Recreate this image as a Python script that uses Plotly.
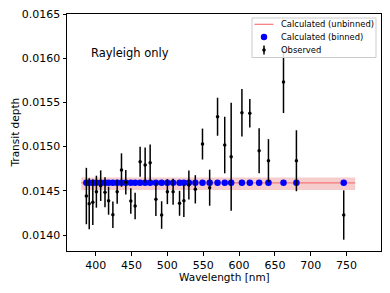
import plotly.graph_objects as go

# Observed spectrum
obs_wl = [387, 391, 396, 401, 407, 413, 418, 424, 430, 436, 442, 449, 455, 462,
          469, 476, 484, 492, 500, 508, 517, 523, 530, 539, 549, 559, 570, 580,
          589, 604, 615, 628, 641, 662, 680, 746]
obs_depth = [0.014441, 0.014354, 0.014370, 0.014490, 0.014558, 0.014483, 0.014388,
             0.014230, 0.014490, 0.014735, 0.014596, 0.014385, 0.014328, 0.014829,
             0.014792, 0.014818, 0.014404, 0.014226, 0.014490, 0.014490, 0.014359,
             0.014388, 0.014566, 0.014517, 0.015029, 0.014535, 0.015338, 0.015018,
             0.014886, 0.015383, 0.015377, 0.014954, 0.014840, 0.015731, 0.014840,
             0.014226]
obs_err = [0.000319, 0.000288, 0.000258, 0.000181, 0.000173, 0.000170, 0.000158,
           0.000150, 0.000136, 0.000189, 0.000139, 0.000145, 0.000150, 0.000170,
           0.000198, 0.000207, 0.000189, 0.000156, 0.000141, 0.000147, 0.000141,
           0.000183, 0.000164, 0.000160, 0.000175, 0.000204, 0.000215, 0.000320,
           0.000611, 0.000270, 0.000162, 0.000255, 0.000245, 0.000351, 0.000345,
           0.000279]

# Binned model (one value per observed channel)
bin_depth = [0.01459, 0.01459, 0.01459, 0.01459, 0.01459, 0.01459,
             0.01459, 0.01459, 0.01459, 0.01459, 0.01459, 0.01459,
             0.01459, 0.01459, 0.01459, 0.01459, 0.01459, 0.01459,
             0.01459, 0.01459, 0.01459, 0.01459, 0.01459, 0.01459,
             0.01459, 0.01459, 0.01459, 0.01459, 0.01459, 0.01459,
             0.01459, 0.01459, 0.01459, 0.01459, 0.01459, 0.01459]

# Unbinned model and its uncertainty band
model_wl = [380, 762]
model_depth = [0.01459, 0.01459]
model_lo = [0.014510, 0.014510]
model_hi = [0.014650, 0.014650]

yticks = [0.0140, 0.0145, 0.0150, 0.0155, 0.0160, 0.0165]
ytick_text = ["0.0140", "0.0145", "0.0150", "0.0155", "0.0160", "0.0165"]
xticks = [400, 450, 500, 550, 600, 650, 700, 750]

legend_labels = ["Calculated (unbinned)", "Calculated (binned)", "Observed"]

FONT = "DejaVu Sans"
LINE_COLOR = "rgb(245,120,120)"
fig = go.Figure()

fig.add_trace(go.Scatter(x=model_wl, y=model_hi, mode="lines",
                         line=dict(width=0), showlegend=False, hoverinfo="skip"))
fig.add_trace(go.Scatter(x=model_wl, y=model_lo, mode="lines", fill="tonexty",
                         fillcolor="rgba(225,90,90,0.3)",
                         line=dict(width=0), showlegend=False, hoverinfo="skip"))
fig.add_trace(go.Scatter(x=model_wl, y=model_depth, mode="lines",
                         name=legend_labels[0], showlegend=False,
                         line=dict(color=LINE_COLOR, width=1.2)))
fig.add_trace(go.Scatter(x=obs_wl, y=bin_depth, mode="markers",
                         name=legend_labels[1], showlegend=False,
                         marker=dict(color="blue", size=6.5)))
fig.add_trace(go.Scatter(x=obs_wl, y=obs_depth, mode="markers",
                         name=legend_labels[2], showlegend=False,
                         marker=dict(color="black", size=3.5),
                         error_y=dict(type="data", array=obs_err, color="black",
                                      thickness=1.5, width=0)))

# Plot area in screen pixels (page body has an 8px default margin)
BODY = 8
L, T, W, H = 67, 14, 314, 237
def px(xp): return (xp - L) / W
def py(yp): return (T + H - yp) / H

# ---- Manual legend (matplotlib-like, compact) ----
fig.add_shape(type="rect", xref="paper", yref="paper",
              x0=px(252), x1=px(376), y0=py(57.5), y1=py(18),
              line=dict(color="#cccccc", width=1), fillcolor="rgba(255,255,255,0.85)",
              layer="above")
row_y = [24.3, 37.0, 50.0]
fig.add_shape(type="line", xref="paper", yref="paper",
              x0=px(254.5), x1=px(273.5), y0=py(row_y[0]), y1=py(row_y[0]),
              line=dict(color=LINE_COLOR, width=1.2), layer="above")
fig.add_shape(type="circle", xref="paper", yref="paper",
              xsizemode="pixel", ysizemode="pixel",
              xanchor=px(264), yanchor=py(row_y[1]),
              x0=-3.2, x1=3.2, y0=-3.2, y1=3.2,
              line=dict(width=0), fillcolor="blue", layer="above")
fig.add_shape(type="line", xref="paper", yref="paper",
              x0=px(264), x1=px(264), y0=py(row_y[2] - 4.5), y1=py(row_y[2] + 4.5),
              line=dict(color="black", width=1.5), layer="above")
fig.add_shape(type="circle", xref="paper", yref="paper",
              xsizemode="pixel", ysizemode="pixel",
              xanchor=px(264), yanchor=py(row_y[2]),
              x0=-1.8, x1=1.8, y0=-1.8, y1=1.8,
              line=dict(width=0), fillcolor="black", layer="above")
for lab, yy in zip(legend_labels, row_y):
    fig.add_annotation(x=px(279.3), y=py(yy), xref="paper", yref="paper",
                       text=lab, showarrow=False, xanchor="left", yanchor="middle",
                       font=dict(family=FONT, size=8.4, color="black"))

fig.add_annotation(x=px(89), y=py(53.3), xref="paper", yref="paper",
                   text="Rayleigh only", showarrow=False, xanchor="left",
                   yanchor="middle", font=dict(family=FONT, size=11.5, color="black"))

# Axis titles
fig.add_annotation(x=0.5, y=py(276.7), xref="paper", yref="paper",
                   text="Wavelength [nm]", showarrow=False, xanchor="center",
                   yanchor="middle", font=dict(family=FONT, size=10.5, color="black"))
fig.add_annotation(x=px(14), y=0.5, xref="paper", yref="paper",
                   text="Transit depth", showarrow=False, textangle=-90,
                   xanchor="center", yanchor="middle",
                   font=dict(family=FONT, size=10.5, color="black"))

axis_common = dict(showline=True, linecolor="black", linewidth=1, mirror=True,
                   ticks="outside", ticklen=3.5, tickcolor="black", showgrid=False,
                   zeroline=False, automargin=False, ticklabeloverflow="allow",
                   tickfont=dict(family=FONT, size=11, color="black"))

fig.update_xaxes(range=[360, 798], tickvals=xticks, **axis_common)
fig.update_yaxes(range=[0.013819, 0.0165003], tickvals=yticks, ticktext=ytick_text,
                 **axis_common)

FIG_W, FIG_H = 390 - BODY, 293 - BODY
fig.update_layout(
    width=FIG_W, height=FIG_H,
    margin=dict(l=L - BODY, r=FIG_W - (L - BODY) - W, t=T - BODY,
                b=FIG_H - (T - BODY) - H),
    paper_bgcolor="white", plot_bgcolor="white",
    font=dict(family=FONT, color="black"),
    showlegend=False,
)

fig.write_html("out.html")
